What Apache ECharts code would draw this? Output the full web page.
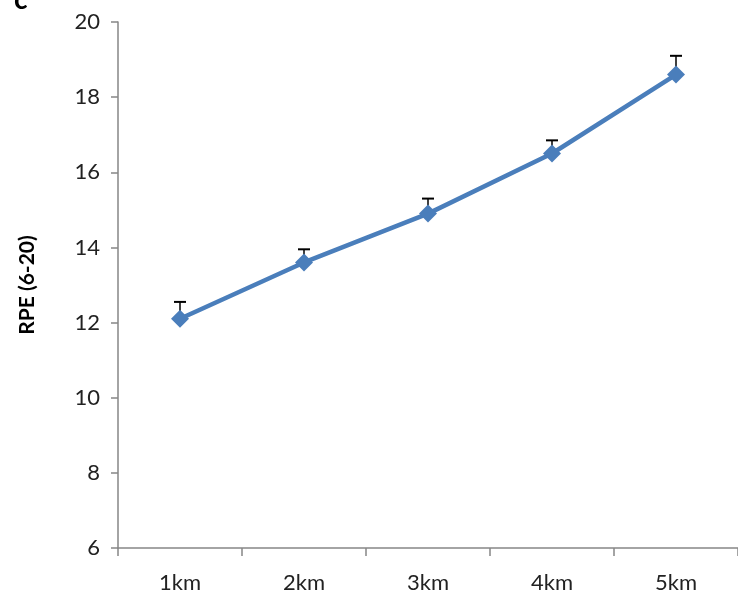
<!DOCTYPE html>
<html><head><meta charset="utf-8">
<script src="https://cdn.jsdelivr.net/npm/echarts@6/dist/echarts.min.js"></script>
<style>html,body{margin:0;padding:0;background:#fff}#c{width:738px;height:603px}</style>
</head><body><div id="c"></div>
<script>
const categories = ['1km','2km','3km','4km','5km'];
const rpeValues = [12.1, 13.6, 14.9, 16.5, 18.6];
const errorUpper = [12.55, 13.95, 15.3, 16.85, 19.1];
const yTicks = [6, 8, 10, 12, 14, 16, 18, 20];

const chart = echarts.init(document.getElementById('c'));
const errData = categories.map((c, i) => [i, rpeValues[i], errorUpper[i]]);
chart.setOption({
  animation: false,
  backgroundColor: '#fff',
  textStyle: { fontFamily: 'Lato' },
  graphic: [{ type: 'text', left: 14, top: -14, style: { text: 'c', font: 'bold 28px Lato', fill: '#000' } }],
  grid: { left: 118, top: 22, bottom: 55, right: -4 },
  xAxis: {
    type: 'category', data: categories, boundaryGap: true,
    axisLine: { lineStyle: { color: '#868686', width: 1.5 } },
    axisTick: { show: true, length: 8, lineStyle: { color: '#868686', width: 1.5 } },
    axisLabel: { color: '#222', fontSize: 22, fontFamily: 'Lato', margin: 24 }
  },
  yAxis: {
    type: 'value', min: yTicks[0], max: yTicks[yTicks.length - 1], interval: 2,
    name: 'RPE (6-20)', nameLocation: 'middle', nameGap: 80,
    nameTextStyle: { fontSize: 21, fontWeight: 'bold', color: '#000', fontFamily: 'Lato' },
    axisLine: { show: true, lineStyle: { color: '#868686', width: 1.5 } },
    axisTick: { show: true, length: 7, inside: false, lineStyle: { color: '#868686', width: 1.5 } },
    axisLabel: { color: '#222', fontSize: 22, fontFamily: 'Lato', margin: 18 },
    splitLine: { show: false }
  },
  series: [
    {
      type: 'line', data: rpeValues, symbol: 'diamond', symbolSize: 18,
      lineStyle: { color: '#4a7ebb', width: 4.5 },
      itemStyle: { color: '#4a7ebb' }, z: 5
    },
    {
      type: 'custom', data: errData, z: 2,
      encode: { x: 0, y: [1, 2] },
      renderItem: function (params, api) {
        const x = api.value(0);
        const p0 = api.coord([x, api.value(1)]);
        const p1 = api.coord([x, api.value(2)]);
        const hw = 6;
        return {
          type: 'group',
          children: [
            { type: 'line', shape: { x1: p0[0], y1: p0[1], x2: p1[0], y2: p1[1] }, style: { stroke: '#000', lineWidth: 1.5 } },
            { type: 'line', shape: { x1: p1[0] - hw, y1: p1[1], x2: p1[0] + hw, y2: p1[1] }, style: { stroke: '#000', lineWidth: 2 } }
          ]
        };
      }
    }
  ]
});
</script></body></html>
